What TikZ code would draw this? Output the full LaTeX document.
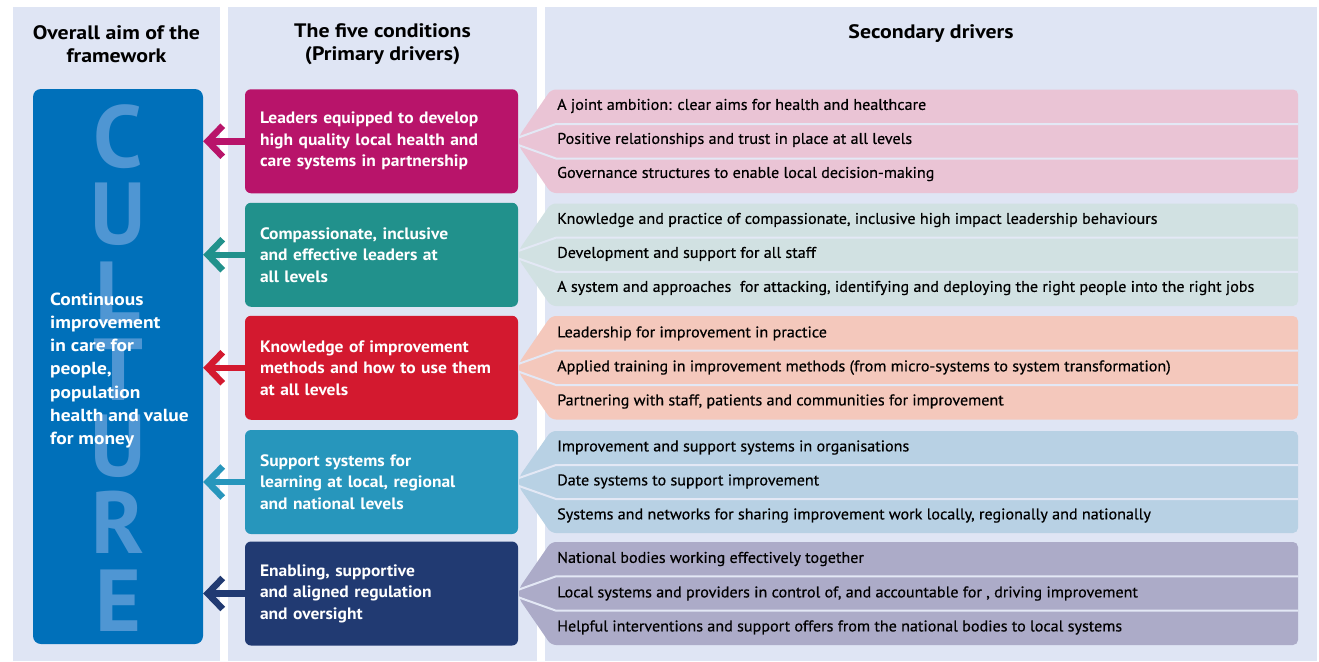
\documentclass[tikz,border=0pt]{standalone}
\usepackage{fontspec}
\setmainfont{PT Sans}
\newfontfamily\hdrfont{PT Sans}[FakeStretch=1.12]
\newfontfamily\boxfont{PT Sans}[FakeStretch=1.06]
\newfontfamily\aimfont{PT Sans}[FakeStretch=1.11]
\newfontfamily\rowfont{PT Sans}[FakeStretch=1.04, FakeBold=0.5]
\usetikzlibrary{arrows.meta}
\definecolor{panelbg}{HTML}{DFE5F4}
\definecolor{divcol}{HTML}{E3E8F5}
\definecolor{cultureblue}{HTML}{0070BA}
\definecolor{letterblue}{HTML}{4F96D3}
\definecolor{cA}{HTML}{B8146A}
\definecolor{cAl}{HTML}{EAC4D5}
\definecolor{cB}{HTML}{21918C}
\definecolor{cBl}{HTML}{D1E1E2}
\definecolor{cC}{HTML}{D3192F}
\definecolor{cCl}{HTML}{F4C8BC}
\definecolor{cD}{HTML}{2796BC}
\definecolor{cDl}{HTML}{B8D1E4}
\definecolor{cE}{HTML}{213A72}
\definecolor{cEl}{HTML}{ACABC8}
\tikzset{
  panel/.style={fill=panelbg, draw=none},
  pbox/.style={rounded corners=6pt, minimum width=273pt, minimum height=104pt,
    text width=243pt, inner xsep=15pt, inner ysep=0pt, align=left, text=white,
    font=\boxfont\bfseries\fontsize{16.5}{21.5}\selectfont},
  rowtxt/.style={anchor=west, inner sep=0pt, text height=1.45ex, text depth=0.3ex,
    font=\rowfont\fontsize{15.5}{18}\selectfont},
  hdr/.style={align=center, inner sep=0pt, font=\hdrfont\bfseries\fontsize{19.5}{23}\selectfont},
  arr/.style={line width=6.5pt, -{Straight Barb[length=15pt,width=31pt,line width=6.5pt]}},
  divider/.style={draw=divcol, line width=2pt},
  bigletter/.style={anchor=base, inner sep=0pt, text=letterblue, font=\bfseries\fontsize{88}{88}\selectfont},
}
\newcommand\secgroup[3]{%
  \pgfmathsetmacro\ym{(#1+#2)/2}%
  \pgfmathsetmacro\ya{#1+(#2-#1)/3}%
  \pgfmathsetmacro\yb{#1+2*(#2-#1)/3}%
  \fill[#3, rounded corners=5pt] (519,\ym-5) -- (551,#1) -- (1298,#1) -- (1298,#2) -- (551,#2) -- (519,\ym+5) -- cycle;
  \draw[divider] (519,\ym-4) -- (556,\ya) -- (1298,\ya);
  \draw[divider] (519,\ym+4) -- (556,\yb) -- (1298,\yb);
}
\begin{document}
\begin{tikzpicture}[x=1pt,y=-1pt]
\useasboundingbox (0,0) rectangle (1319,661);
\fill[white] (0,0) rectangle (1319,661);
% panels
\fill[panel] (13,7) rectangle (220,661);
\fill[panel] (228,7) rectangle (537,661);
\fill[panel] (545,7) rectangle (1317,661);
% headers
\node[hdr] (h1) at (116.5,44.5) {Overall aim of the\\framework};
\node[hdr] (h2) at (382.5,44) {The five conditions\\(Primary drivers)};
\node[hdr] (h3) at (931,33.5) {Secondary drivers};
% culture box
\node[fill=cultureblue, rounded corners=8pt, minimum width=170pt, minimum height=555pt, inner sep=0pt] (culture) at (118,366.5) {};
\node[bigletter] (l1) at (118,167) {C};
\node[bigletter] (l2) at (118,244) {U};
\node[bigletter] (l3) at (118,323) {L};
\node[bigletter] (l4) at (118,400) {T};
\node[bigletter] (l5) at (118,476) {U};
\node[bigletter] (l6) at (118,553) {R};
\node[bigletter] (l7) at (118,631) {E};
\node[anchor=west, inner sep=0pt, align=left, text=white, font=\aimfont\bfseries\fontsize{17.5}{23.3}\selectfont] (aim) at (50,370.5)
  {Continuous\\improvement\\in care for\\people,\\population\\health and value\\for money};
% secondary groups
\secgroup{89.5}{193}{cAl}
\secgroup{203.5}{306}{cBl}
\secgroup{316}{419.5}{cCl}
\secgroup{431}{533}{cDl}
\secgroup{542}{645}{cEl}
% primary boxes
\node[pbox, fill=cA] (p1) at (381.5,141.25) {Leaders equipped to develop\\high quality local health and\\care systems in partnership};
\node[pbox, fill=cB] (p2) at (381.5,254.75) {Compassionate, inclusive\\and effective leaders at\\all levels};
\node[pbox, fill=cC] (p3) at (381.5,367.75) {Knowledge of improvement\\methods and how to use them\\at all levels};
\node[pbox, fill=cD] (p4) at (381.5,482) {Support systems for\\learning at local, regional\\and national levels};
\node[pbox, fill=cE] (p5) at (381.5,593.5) {Enabling, supportive\\and aligned regulation\\and oversight};
% arrows
\draw[arr, cA] (p1.west) -- (p1.west -| culture.east);
\draw[arr, cB] (p2.west) -- (p2.west -| culture.east);
\draw[arr, cC] (p3.west) -- (p3.west -| culture.east);
\draw[arr, cD] (p4.west) -- (p4.west -| culture.east);
\draw[arr, cE] (p5.west) -- (p5.west -| culture.east);
% secondary texts
\node[rowtxt] (s11) at (557,107) {A joint ambition: clear aims for health and healthcare};
\node[rowtxt] (s12) at (557,141) {Positive relationships and trust in place at all levels};
\node[rowtxt] (s13) at (557,175) {Governance structures to enable local decision-making};
\node[rowtxt] (s21) at (557,221) {Knowledge and practice of compassionate, inclusive high impact leadership behaviours};
\node[rowtxt] (s22) at (557,255) {Development and support for all staff};
\node[rowtxt] (s23) at (557,289) {A system and approaches~ for attacking, identifying and deploying the right people into the right jobs};
\node[rowtxt] (s31) at (557,334.5) {Leadership for improvement in practice};
\node[rowtxt] (s32) at (557,368.5) {Applied training in improvement methods (from micro-systems to system transformation)};
\node[rowtxt] (s33) at (557,402.5) {Partnering with staff, patients and communities for improvement};
\node[rowtxt] (s41) at (557,448.5) {Improvement and support systems in organisations};
\node[rowtxt] (s42) at (557,482.5) {Date systems to support improvement};
\node[rowtxt] (s43) at (557,516.5) {Systems and networks for sharing improvement work locally, regionally and nationally};
\node[rowtxt] (s51) at (557,560) {National bodies working effectively together};
\node[rowtxt] (s52) at (557,594.5) {Local systems and providers in control of, and accountable for , driving improvement};
\node[rowtxt] (s53) at (557,628.5) {Helpful interventions and support offers from the national bodies to local systems};
\end{tikzpicture}
\end{document}
